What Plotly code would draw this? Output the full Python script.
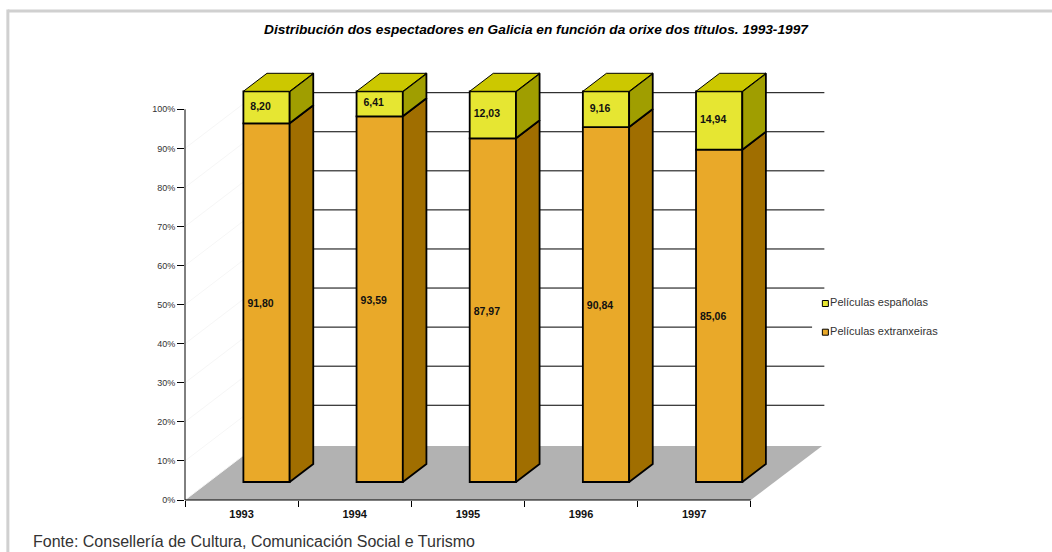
import plotly.graph_objects as go

years = ["1993", "1994", "1995", "1996", "1997"]
extranxeiras = [91.80, 93.59, 87.97, 90.84, 85.06]
espanolas = [8.20, 6.41, 12.03, 9.16, 14.94]
y_ticks = [0, 10, 20, 30, 40, 50, 60, 70, 80, 90, 100]
grid_levels = [10, 20, 30, 40, 50, 60, 70, 80, 90]
x_edges = [0, 1, 2, 3, 4, 5]

TITLE = "Distribución dos espectadores en Galicia en función da orixe dos títulos. 1993-1997"
SOURCE = "Fonte: Consellería de Cultura, Comunicación Social e Turismo"
NAME_ES = "Películas españolas"
NAME_EX = "Películas extranxeiras"

ORANGE, ORANGE_SIDE = "#E9A929", "#A06E00"
YELLOW, YELLOW_SIDE, YELLOW_TOP = "#E6E632", "#A09E00", "#CCC800"
FLOOR = "#B2B2B2"
FRAME = "#D0D0D0"
TXT = "#333333"
FONT = "Liberation Sans, Arial, sans-serif"

W, H = 1052, 552
L, B = 184.7, 500.0                     # data origin (pixels)
PR, PT = 1000.0, 50.0                   # right / top of the plot box (pixels)
ux, uy = 113.2, 3.907                   # pixels per unit
XMAX, YMAX = (PR - L) / ux, (B - PT) / uy


def px(x):
    return (x - L) / (PR - L)


def py(y):
    return (B - y) / (B - PT)


# 3-D projection offsets in axis units
DX, DY = 23.6 / ux, 18.0 / uy       # one bar-depth
BW = 46.3 / ux                      # bar width
FX = [i + 0.5 + DX + 0.012 for i in range(len(years))]
BASE = DY

fig = go.Figure()

# front faces
fig.add_bar(x=FX, y=extranxeiras, base=[BASE] * 5, width=BW, name=NAME_EX,
            marker=dict(color=ORANGE, line=dict(color="black", width=1.8)),
            showlegend=False, hoverinfo="skip")
fig.add_bar(x=FX, y=espanolas, base=[BASE + v for v in extranxeiras], width=BW, name=NAME_ES,
            marker=dict(color=YELLOW, line=dict(color="black", width=1.8)),
            showlegend=False, hoverinfo="skip")


def poly(xs, ys, fill, lw=1.8):
    fig.add_scatter(x=xs + xs[:1], y=ys + ys[:1], mode="lines", fill="toself", fillcolor=fill,
                    line=dict(color="black", width=lw),
                    showlegend=False, hoverinfo="skip")


for fx, ex, es in zip(FX, extranxeiras, espanolas):
    r = fx + BW / 2
    l = fx - BW / 2
    y0, y1, y2 = BASE, BASE + ex, BASE + ex + es
    poly([r, r + DX, r + DX, r], [y0, y0 + DY, y1 + DY, y1], ORANGE_SIDE)
    poly([r, r + DX, r + DX, r], [y1, y1 + DY, y2 + DY, y2], YELLOW_SIDE)
    poly([l, l + DX, r + DX, r], [y2, y2 + DY, y2 + DY, y2], YELLOW_TOP, 1.0)

# value labels
LBL_SHIFT = 6.0 / ux
LBL_DROP = 2.0 / uy
label_x = [f - LBL_SHIFT for f in FX]
fmt = lambda v: f"{v:.2f}".replace(".", ",")
fig.add_scatter(x=label_x, y=[BASE + v / 2 - LBL_DROP for v in extranxeiras], mode="text",
                text=[fmt(v) for v in extranxeiras], showlegend=False,
                textfont=dict(family=FONT, size=10.5, color="#111111"), hoverinfo="skip",
                texttemplate="<b>%{text}</b>")
fig.add_scatter(x=label_x, y=[BASE + a + b / 2 for a, b in zip(extranxeiras, espanolas)], mode="text",
                text=[fmt(v) for v in espanolas], showlegend=False,
                textfont=dict(family=FONT, size=10.5, color="#111111"), hoverinfo="skip",
                texttemplate="<b>%{text}</b>")

# legend
LEG_X = (825.3 - L) / ux
for name, col, ly in ((NAME_ES, YELLOW, (B - 303.5) / uy), (NAME_EX, ORANGE, (B - 332.2) / uy)):
    fig.add_scatter(x=[LEG_X], y=[ly], mode="markers+text", text=[name], name=name,
                    textposition="middle right", showlegend=False,
                    marker=dict(symbol="square", size=6, color=col, line=dict(color="black", width=1)),
                    textfont=dict(family=FONT, size=11, color=TXT), hoverinfo="skip")

X = lambda v: v * ux / (PR - L)      # axis x -> paper
Y = lambda v: v * uy / (B - PT)      # axis y -> paper
shapes = []
# frame
shapes.append(dict(type="line", xref="paper", yref="paper", x0=px(7.5), x1=px(W), y0=py(11), y1=py(11),
                   line=dict(color=FRAME, width=3), layer="below"))
shapes.append(dict(type="line", xref="paper", yref="paper", x0=px(7.5), x1=px(7.5), y0=py(9.5), y1=py(H),
                   line=dict(color=FRAME, width=3), layer="below"))
# floor
BX, BY = X(3 * DX), Y(3 * DY)
shapes.append(dict(type="path", xref="paper", yref="paper", layer="below", fillcolor=FLOOR,
                   line=dict(width=0),
                   path=f"M0,0 L{BX},{BY} L{px(822)},{BY} L{X(5)},0 Z"))
# faint wall lines
for v in y_ticks[:-1]:
    shapes.append(dict(type="line", xref="paper", yref="paper", layer="below",
                       x0=0, x1=BX, y0=Y(v), y1=Y(v) + BY,
                       line=dict(color="#F6F6F6", width=1)))
# back-wall grid
GRID_OFF = Y(14.25)
for v in grid_levels:
    shapes.append(dict(type="line", xref="paper", yref="paper", layer="below",
                       x0=BX, x1=px(824.3), y0=Y(v) + GRID_OFF, y1=Y(v) + GRID_OFF,
                       line=dict(color="black", width=1)))
# white legend backing
shapes.append(dict(type="rect", xref="paper", yref="paper", layer="below", fillcolor="white",
                   line=dict(width=0), x0=px(812), x1=px(950), y0=py(343), y1=py(293)))
# axis lines
shapes.append(dict(type="line", xref="paper", yref="paper", layer="below",
                   x0=0, x1=X(5), y0=0, y1=0, line=dict(color="black", width=1)))
shapes.append(dict(type="line", xref="paper", yref="paper", layer="below",
                   x0=0, x1=0, y0=0, y1=Y(100), line=dict(color="black", width=1)))

annotations = [
    dict(text=f"<b><i>{TITLE}</i></b>", xref="paper", yref="paper", x=px(536.5), y=py(29),
         xanchor="center", yanchor="middle", showarrow=False,
         font=dict(family=FONT, size=13.7, color="black")),
    dict(text=SOURCE, xref="paper", yref="paper", x=px(30.5), y=py(541),
         xanchor="left", yanchor="middle", showarrow=False,
         font=dict(family=FONT, size=16, color=TXT)),
]

fig.update_layout(
    width=W, height=H, autosize=False,
    margin=dict(l=L, r=W - PR, t=PT, b=H - B, pad=0),
    paper_bgcolor="white", plot_bgcolor="rgba(0,0,0,0)",
    barmode="overlay", showlegend=False,
    shapes=shapes, annotations=annotations,
    xaxis=dict(range=[0, XMAX], tickmode="array", tickvals=[i + 0.5 for i in range(5)],
               ticktext=[f"<b>{y}</b>" for y in years],
               showgrid=False, zeroline=False, showline=False,
               ticks="outside", ticklen=4, tickcolor="rgba(0,0,0,0)",
               tickfont=dict(family=FONT, size=11, color="#111111"),
               minor=dict(tickmode="array", tickvals=x_edges, ticks="outside", ticklen=6,
                          tickcolor="black", tickwidth=1, showgrid=False)),
    yaxis=dict(range=[0, YMAX], tickmode="array", tickvals=y_ticks, ticktext=[f"{v}%" for v in y_ticks],
               showgrid=False, zeroline=False, showline=False,
               ticks="outside", ticklen=7, tickcolor="black", tickwidth=1,
               tickfont=dict(family=FONT, size=9, color=TXT)),
)

fig.write_html("out.html", config=dict(displayModeBar=False),
               post_script="document.body.style.margin='0';document.body.style.overflow='hidden';")
